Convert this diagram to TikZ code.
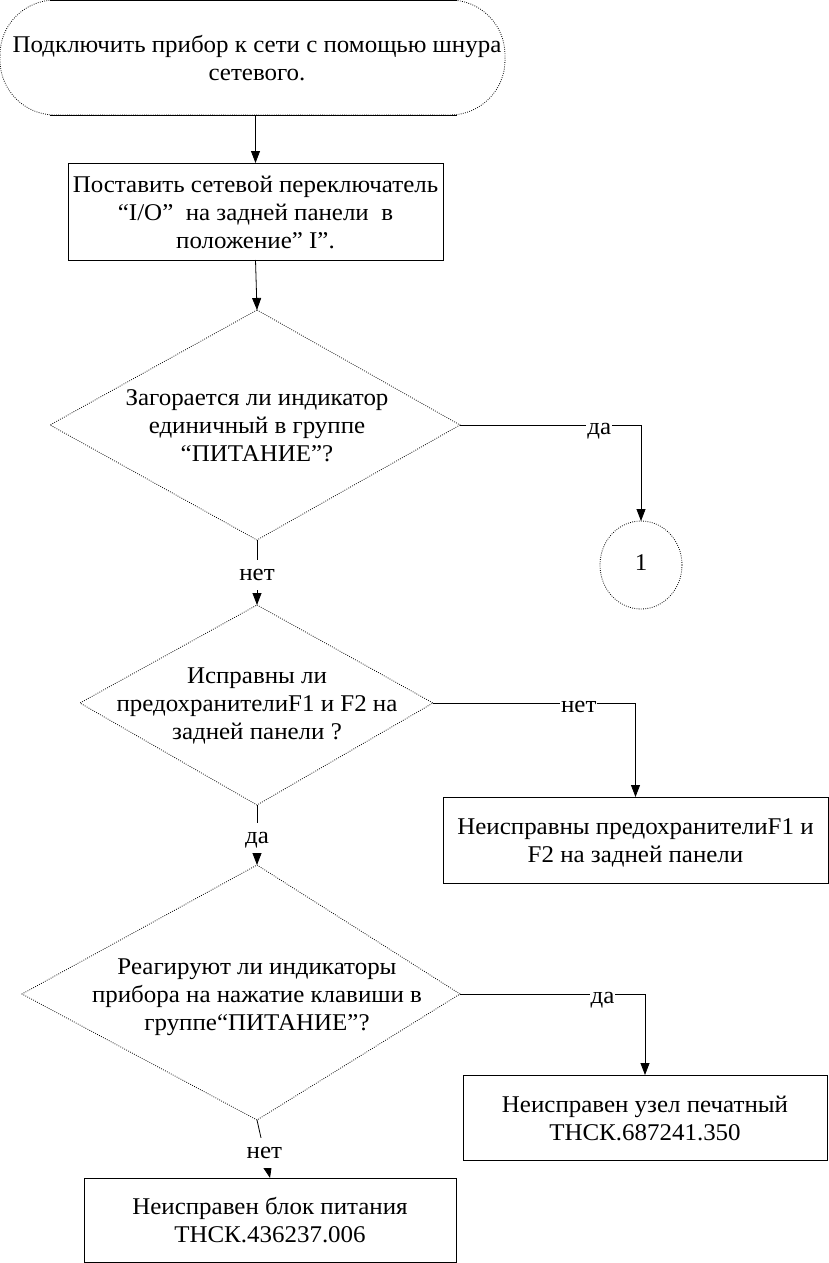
\documentclass[tikz,border=0pt]{standalone}
\usepackage{fontspec}
\usepackage{graphicx}
\setmainfont{Liberation Serif}
\usetikzlibrary{arrows.meta,shapes.geometric}
\newcommand{\stx}[1]{\scalebox{1.04}[1]{\begin{tabular}{@{}c@{}}#1\end{tabular}}}
\begin{document}
\begin{tikzpicture}[x=1pt,y=-1pt,
  every node/.style={font=\fontsize{24}{28}\selectfont, align=center, inner sep=0pt, outer sep=0pt},
  txt/.style={yshift=-3pt},
  proc/.style={draw, line width=0.8pt, anchor=north west},
  dotline/.style={line width=0.8pt, dash pattern=on 0.8pt off 1.4pt},
  conn/.style={line width=0.8pt},
  arr/.style={conn, -{Triangle[length=12pt,width=9pt]}},
  lbl/.style={fill=white, inner sep=1pt},
  hlbl/.style={lbl, yshift=-4pt}]
\useasboundingbox (0,0) rectangle (828,1263);

% terminator
\node[minimum width=505pt, minimum height=115pt, anchor=north west] (t) at (0,0) {};
\node[txt] (ttext) at (257,58) {\stx{Подключить прибор к сети с помощью шнура\\сетевого.}};
\draw[dotline, rounded corners=55pt] (t.north west) rectangle (t.south east);
\draw[conn] ([xshift=50pt]t.north west) -- ([xshift=-48pt]t.north east);
\draw[conn] ([xshift=50pt]t.south west) -- ([xshift=-48pt]t.south east);

% box 1
\node[proc, minimum width=375pt, minimum height=97pt] (b1) at (68,163) {};
\node[txt] at (b1.center) {\stx{Поставить сетевой переключатель\\“I/O”\ \ на задней панели\ \ в\\положение” I”.}};

% diamond 1
\coordinate (d1t) at (257,310); \coordinate (d1b) at (257,540);
\coordinate (d1l) at (50,425);  \coordinate (d1r) at (460,425);
\draw[dotline] (d1t) -- (d1r) -- (d1b) -- (d1l) -- cycle;
\node[txt] (d1) at (257,425) {\stx{Загорается ли индикатор\\единичный в группе\\“ПИТАНИЕ”?}};

% connector circle
\node[dotline, draw, ellipse, minimum width=82pt, minimum height=88pt] (c1) at (641,565) {\stx{1}};

% diamond 2
\coordinate (d2t) at (257,605); \coordinate (d2b) at (257,805);
\coordinate (d2l) at (80,703);  \coordinate (d2r) at (433,703);
\draw[dotline] (d2t) -- (d2r) -- (d2b) -- (d2l) -- cycle;
\node[txt] (d2) at (257,703) {\stx{Исправны ли\\предохранителиF1 и F2 на\\задней панели ?}};

% box fuses
\node[proc, minimum width=385pt, minimum height=86pt] (b2) at (443,797) {};
\node[txt] at (b2.center) {\stx{Неисправны предохранителиF1 и\\F2 на задней панели}};

% diamond 3
\coordinate (d3t) at (257,865); \coordinate (d3b) at (257,1120);
\coordinate (d3l) at (22,994);  \coordinate (d3r) at (460,994);
\draw[dotline] (d3t) -- (d3r) -- (d3b) -- (d3l) -- cycle;
\node[txt] (d3) at (257,994) {\stx{Реагируют ли индикаторы\\прибора на нажатие клавиши в\\группе“ПИТАНИЕ”?}};

% box pcb
\node[proc, minimum width=364pt, minimum height=85pt] (b3) at (463,1075) {};
\node[txt] at (b3.center) {\stx{Неисправен узел печатный\\ТНСК.687241.350}};

% box psu
\node[proc, minimum width=372pt, minimum height=84pt] (b4) at (84,1178) {};
\node[txt] at (b4.center) {\stx{Неисправен блок питания\\ТНСК.436237.006}};

% connectors
\draw[arr] (t.south -| b1.north) -- (b1.north);
\draw[arr] (b1.south) -- (d1t);

\draw[arr] (d1r) -- (c1.north |- d1r) node[hlbl, pos=0.77] (l1) {\stx{да}} -- (c1.north);
\draw[arr] (d1b) -- (d2t) node[lbl, pos=0.54] (l2) {\stx{нет}};
\draw[arr] (d2r) -- (b2.north |- d2r) node[hlbl, pos=0.72] (l3) {\stx{нет}} -- (b2.north);
\draw[arr] (d2b) -- (d3t) node[lbl, pos=0.55] (l4) {\stx{да}};
\draw[arr] (d3r) -- (b3.north |- d3r) node[hlbl, pos=0.77] (l5) {\stx{да}} -- (b3.north);
\draw[arr] (d3b) -- (b4.north) node[lbl, pos=0.57] (l6) {\stx{нет}};
\end{tikzpicture}
\end{document}
